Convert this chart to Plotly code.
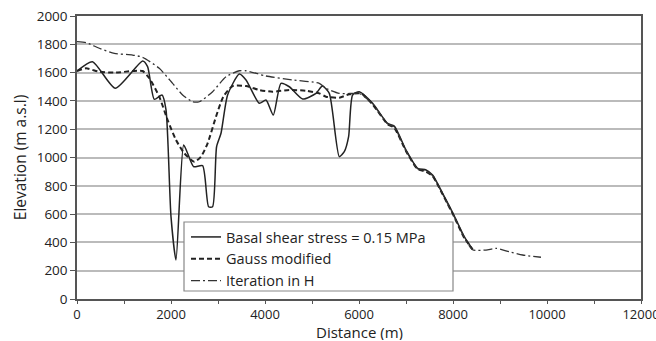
import plotly.graph_objects as go

# Basal shear stress = 0.15 MPa
basal_x = [0, 330, 815, 1396, 1502, 1645, 1808, 1894, 2000, 2106, 2268, 2353, 2481, 2672,
           2800, 2885, 2970, 3064, 3204, 3453, 3596, 3879, 4021, 4177, 4340, 4517, 4800,
           5085, 5220, 5368, 5581, 5687, 5779, 5864, 6006, 6290, 6609, 6751, 7000, 7247,
           7426, 7566, 7779, 8000, 8240, 8417]
basal_y = [1611, 1677, 1489, 1682, 1642, 1411, 1442, 1336, 582, 276, 1088, 1030, 935, 942,
           652, 652, 1076, 1171, 1442, 1590, 1548, 1383, 1406, 1300, 1524, 1500, 1413,
           1453, 1505, 1453, 1006, 1041, 1147, 1442, 1465, 1383, 1241, 1222, 1053, 924,
           912, 876, 747, 606, 440, 351]

# Gauss modified
gauss_x = [0, 191, 474, 830, 1183, 1396, 1538, 1750, 1928, 2106, 2283, 2496, 2638, 2779,
           2957, 3113, 3311, 3596, 3879, 4162, 4517, 4872, 5155, 5298, 5581, 5794, 6043,
           6290, 6609, 6751, 7000, 7247, 7426, 7566, 7779, 8000, 8240, 8417]
gauss_y = [1611, 1630, 1606, 1600, 1611, 1611, 1560, 1430, 1265, 1124, 1030, 970, 1006, 1100,
           1288, 1430, 1505, 1505, 1477, 1465, 1477, 1472, 1453, 1430, 1423, 1447, 1453,
           1375, 1235, 1210, 1045, 918, 900, 868, 740, 598, 432, 351]

# Iteration in H
iter_x = [0, 191, 474, 794, 1183, 1396, 1750, 2034, 2247, 2460, 2602, 2885, 3170, 3453,
          3596, 4021, 4587, 5155, 5298, 5581, 5864, 6006, 6290, 6609, 6751, 7000, 7247,
          7426, 7566, 7779, 8000, 8240, 8417, 8702, 8915, 9198, 9481, 9872]
iter_y = [1819, 1812, 1772, 1736, 1724, 1708, 1630, 1524, 1442, 1394, 1394, 1465, 1571, 1613,
          1613, 1576, 1548, 1524, 1489, 1453, 1453, 1453, 1378, 1238, 1215, 1048, 920,
          905, 872, 742, 600, 436, 348, 346, 358, 334, 311, 295]

x_ticks = [0, 2000, 4000, 6000, 8000, 10000, 12000]
y_ticks = [0, 200, 400, 600, 800, 1000, 1200, 1400, 1600, 1800, 2000]

font_family = "Open Sans, Noto Sans, sans-serif"

fig = go.Figure()
fig.add_trace(go.Scatter(x=basal_x, y=basal_y, mode="lines",
                         name="Basal shear stress = 0.15 MPa",
                         line=dict(color="#222222", width=1.5, shape="spline", smoothing=0.6)))
fig.add_trace(go.Scatter(x=gauss_x, y=gauss_y, mode="lines",
                         name="Gauss modified",
                         line=dict(color="#222222", width=2, dash="5px,3px",
                                   shape="spline", smoothing=0.6)))
fig.add_trace(go.Scatter(x=iter_x, y=iter_y, mode="lines",
                         name="Iteration in H",
                         line=dict(color="#333333", width=1.3, dash="9px,3px,2px,3px",
                                   shape="spline", smoothing=0.6)))

# legend frame (white box with grey border, behind the legend entries)
fig.add_shape(type="rect", xref="paper", yref="paper",
              x0=(184 - 77) / 564, x1=(453 - 77) / 564,
              y0=(299 - 291) / 283, y1=(299 - 222) / 283,
              line=dict(color="#888888", width=1.2), fillcolor="white", layer="above")

fig.add_annotation(text="Distance (m)", xref="paper", yref="paper",
                   x=(359 - 77) / 564, y=(299 - 341) / 283,
                   xanchor="center", yanchor="bottom", showarrow=False,
                   height=17, valign="middle", borderpad=0,
                   font=dict(size=15, color="#222222"))

fig.update_layout(
    width=656, height=341,
    margin=dict(l=77, r=15, t=16, b=42, autoexpand=False),
    paper_bgcolor="white", plot_bgcolor="white",
    font=dict(family=font_family, size=13, color="#222222"),
    showlegend=True,
    legend=dict(x=(186 - 77) / 564, y=(299 - 221) / 283, xanchor="left", yanchor="top",
                bgcolor="rgba(0,0,0,0)", borderwidth=0,
                font=dict(size=14.5, color="#222222"),
                tracegroupgap=0, itemwidth=30),
)
fig.update_xaxes(
    range=[0, 12000], tickvals=x_ticks, ticktext=[str(v) for v in x_ticks],
    showgrid=False, zeroline=False, automargin=False,
    showline=True, linecolor="#555555", linewidth=1.5, mirror=True,
    ticks="outside", ticklen=3, tickcolor="#555555",
    ticklabeloverflow="allow",
    minor=dict(dtick=1000, ticks="outside", ticklen=3, tickcolor="#555555", showgrid=False),
    tickfont=dict(size=13),
)
fig.update_yaxes(
    range=[0, 2000], tickvals=y_ticks, ticktext=[str(v) for v in y_ticks],
    showgrid=True, gridcolor="#bbbbbb", gridwidth=1.5, zeroline=False, automargin=False,
    showline=True, linecolor="#555555", linewidth=1.5, mirror=True,
    ticks="outside", ticklen=5, tickcolor="#555555",
    title=dict(text="Elevation (m a.s.l)", standoff=6, font=dict(size=15.5)),
    tickfont=dict(size=13.5),
)

fig.write_html("out.html")
